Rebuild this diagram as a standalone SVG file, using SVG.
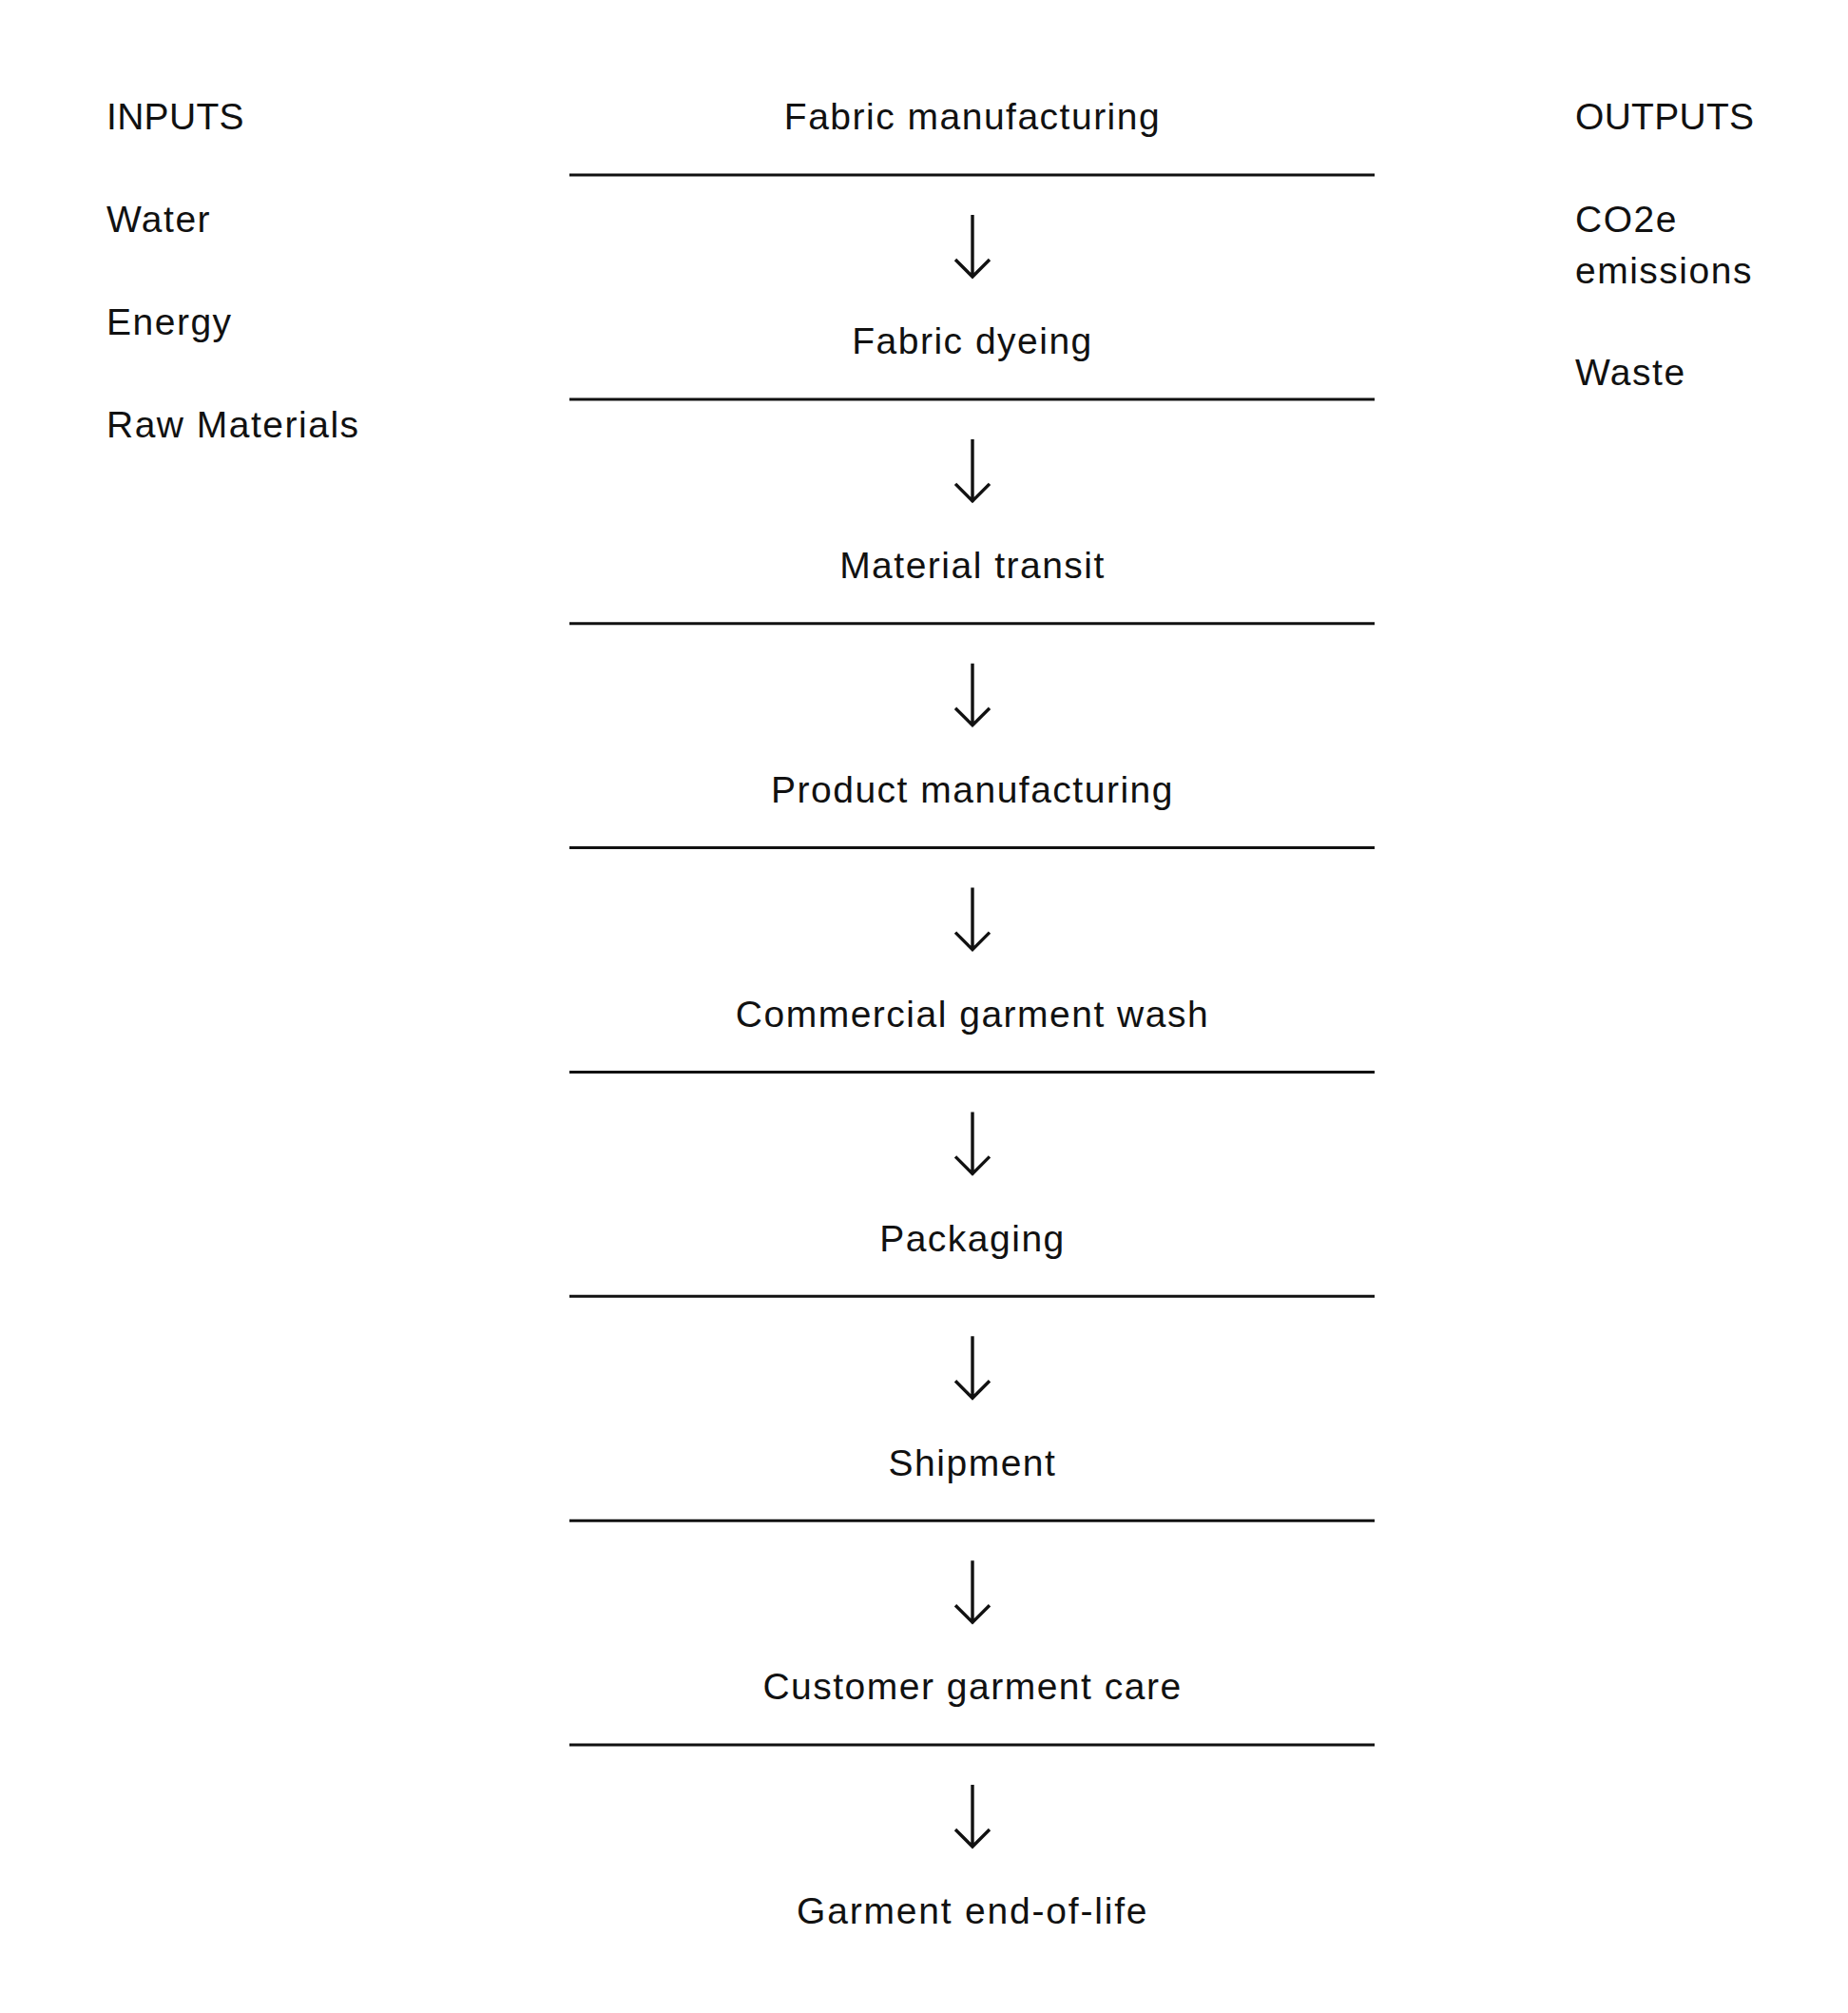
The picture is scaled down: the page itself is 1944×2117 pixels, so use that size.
<svg xmlns="http://www.w3.org/2000/svg" width="1944" height="2117" viewBox="0 0 1944 2117">
<style>
text{font-family:"Liberation Sans",Arial,sans-serif;font-size:39px;fill:#111;letter-spacing:1.5px}
.c{text-anchor:middle}
.cap{letter-spacing:0.3px}
.rule{stroke:#111;stroke-width:3;fill:none}
.arr{stroke:#111;stroke-width:3.4;fill:none;stroke-linejoin:miter;stroke-linecap:butt}
</style>
<rect width="1944" height="2117" fill="#fff"/>
<g id="inputs">
<text class="cap" x="112" y="136">INPUTS</text>
<text x="112" y="244">Water</text>
<text x="112" y="352">Energy</text>
<text x="112" y="460">Raw Materials</text>
</g>
<g id="outputs">
<text class="cap" x="1657" y="136">OUTPUTS</text>
<text x="1657" y="244">CO2e</text>
<text x="1657" y="298">emissions</text>
<text x="1657" y="405">Waste</text>
</g>
<g id="step1"><text class="c" x="1023" y="136">Fabric manufacturing</text><line class="rule" x1="599" y1="184" x2="1446" y2="184"/></g>
<g id="step2"><text class="c" x="1023" y="372.3">Fabric dyeing</text><line class="rule" x1="599" y1="419.9" x2="1446" y2="419.9"/></g>
<g id="step3"><text class="c" x="1023" y="608.1">Material transit</text><line class="rule" x1="599" y1="655.7" x2="1446" y2="655.7"/></g>
<g id="step4"><text class="c" x="1023" y="844">Product manufacturing</text><line class="rule" x1="599" y1="891.6" x2="1446" y2="891.6"/></g>
<g id="step5"><text class="c" x="1023" y="1079.8">Commercial garment wash</text><line class="rule" x1="599" y1="1127.4" x2="1446" y2="1127.4"/></g>
<g id="step6"><text class="c" x="1023" y="1315.7">Packaging</text><line class="rule" x1="599" y1="1363.3" x2="1446" y2="1363.3"/></g>
<g id="step7"><text class="c" x="1023" y="1551.6">Shipment</text><line class="rule" x1="599" y1="1599.2" x2="1446" y2="1599.2"/></g>
<g id="step8"><text class="c" x="1023" y="1787.4">Customer garment care</text><line class="rule" x1="599" y1="1835" x2="1446" y2="1835"/></g>
<g id="step9"><text class="c" x="1023" y="2023.3" textLength="370" lengthAdjust="spacing">Garment end-of-life</text></g>
<g id="connectors">
<path class="arr" d="M1023 226V292M1005 273L1023 291L1041 273"/>
<path class="arr" d="M1023 461.9V527.9M1005 508.9L1023 526.9L1041 508.9"/>
<path class="arr" d="M1023 697.7V763.7M1005 744.7L1023 762.7L1041 744.7"/>
<path class="arr" d="M1023 933.6V999.6M1005 980.6L1023 998.6L1041 980.6"/>
<path class="arr" d="M1023 1169.4V1235.4M1005 1216.4L1023 1234.4L1041 1216.4"/>
<path class="arr" d="M1023 1405.3V1471.3M1005 1452.3L1023 1470.3L1041 1452.3"/>
<path class="arr" d="M1023 1641.2V1707.2M1005 1688.2L1023 1706.2L1041 1688.2"/>
<path class="arr" d="M1023 1877V1943M1005 1924L1023 1942L1041 1924"/>
</g>
</svg>
